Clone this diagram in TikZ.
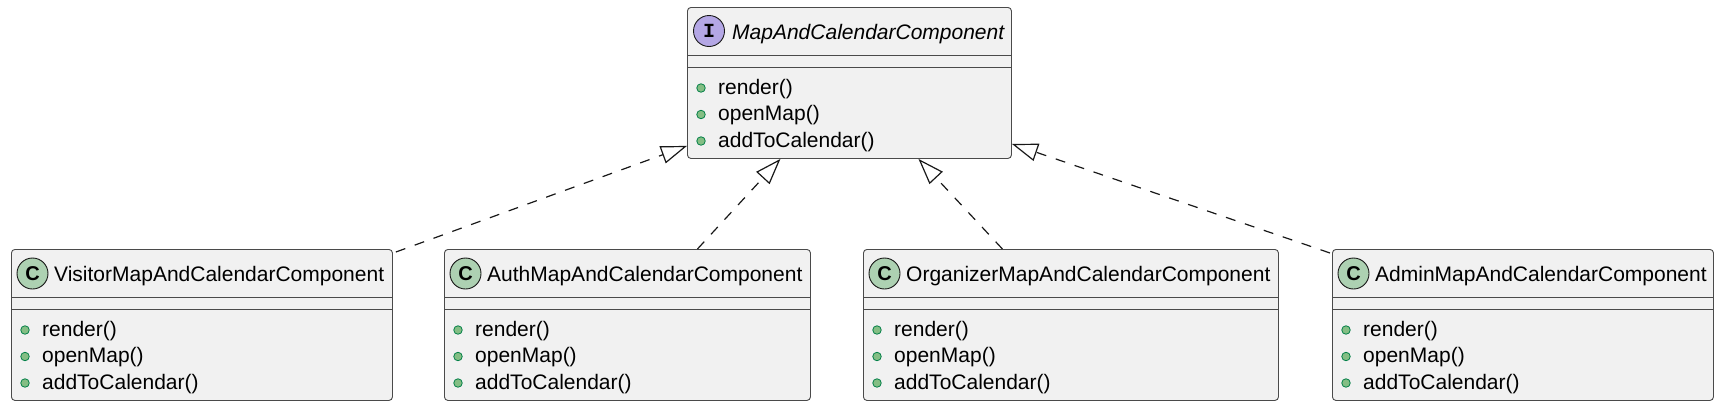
\documentclass[tikz,border=0pt]{standalone}
\usepackage{fontspec}
\setmainfont{Liberation Sans}
\newfontfamily\spotmono{Liberation Mono}
\usetikzlibrary{arrows.meta}
\definecolor{boxfill}{HTML}{F1F1F1}
\definecolor{boxline}{HTML}{4A4A4A}
\definecolor{edgeline}{HTML}{181818}
\definecolor{classspot}{HTML}{ADD1B2}
\definecolor{ifacespot}{HTML}{B4A7E5}
\definecolor{dotfill}{HTML}{84BE84}
\definecolor{dotline}{HTML}{038048}
\begin{document}
\begin{tikzpicture}[x=1pt,y=-1pt,
    font=\fontsize{21}{25}\selectfont,
    classbox/.style={draw=boxline,fill=boxfill,line width=0.9pt,rounded corners=3.5pt,
      minimum height=151pt,inner sep=0pt,anchor=north west},
    spot/.style={circle,draw=edgeline,line width=0.9pt,minimum size=31pt,inner sep=0pt,
      font=\bfseries\fontsize{20}{20}\selectfont},
    classname/.style={anchor=base west,inner sep=0pt},
    sepline/.style={draw=boxline,line width=0.9pt},
    pubdot/.style={circle,draw=dotline,fill=dotfill,line width=0.8pt,minimum size=8.5pt,inner sep=0pt},
    method/.style={anchor=base west,inner sep=0pt},
    realize/.style={draw=edgeline,line width=1.2pt,dash pattern=on 10pt off 10pt,
      -{Triangle[open,length=26pt,width=18pt,line width=1.2pt]}}]
  \useasboundingbox (0,0) rectangle (1727,410);

  % interface
  \node[classbox,minimum width=324pt] (iface) at (687,7) {};
  \node[spot,fill=ifacespot] (iface-spot) at ([shift={(22,24)}]iface.north west) {\spotmono\bfseries I};
  \node[classname] (iface-name) at ([shift={(45,32.7)}]iface.north west) {\itshape MapAndCalendarComponent};

  % implementations
  \foreach \b/\x/\w/\t in {vis/11/381/VisitorMapAndCalendarComponent,
      auth/444/366/AuthMapAndCalendarComponent,
      org/863/415/OrganizerMapAndCalendarComponent,
      adm/1332/381/AdminMapAndCalendarComponent} {
    \node[classbox,minimum width=\w pt] (\b) at (\x,249) {};
    \node[spot,fill=classspot] (\b-spot) at ([shift={(21.5,24.5)}]\b.north west) {C};
    \node[classname] (\b-name) at ([shift={(43,32.7)}]\b.north west) {\t};
  }

  % compartments and methods
  \foreach \b in {iface,vis,auth,org,adm} {
    \draw[sepline] ([yshift=-48pt]\b.north west) -- ([yshift=-48pt]\b.north east);
    \draw[sepline] ([yshift=-60pt]\b.north west) -- ([yshift=-60pt]\b.north east);
    \foreach \m [count=\i] in {render(),openMap(),addToCalendar()} {
      \node[pubdot] (\b-dot\i) at ([shift={(14,{81+26.5*(\i-1)})}]\b.north west) {};
      \node[method] (\b-m\i) at ([shift={(31,{87+26.5*(\i-1)})}]\b.north west) {\m};
    }
  }

  \begin{scope}
    \draw[realize] ([shift={(3,3)}]vis.north east) to ([yshift=13pt]iface.south west);
    \draw[realize] ([xshift=70pt]auth.north) to ([xshift=-69pt]iface.south);
    \draw[realize] ([xshift=-68.5pt]org.north) to ([xshift=69pt]iface.south);
    \draw[realize] ([shift={(-2,4)}]adm.north west) to ([yshift=15pt]iface.south east);
  \end{scope}
\end{tikzpicture}
\end{document}
